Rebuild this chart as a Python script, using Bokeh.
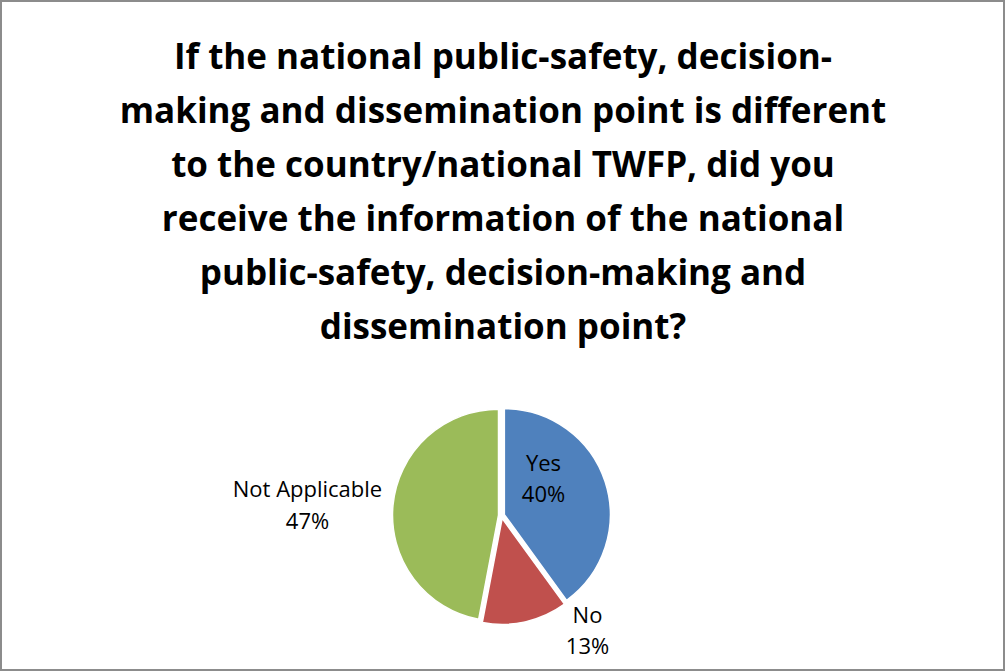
import math
from bokeh.plotting import figure
from bokeh.models import Range1d, ColumnDataSource
from bokeh.core.properties import value
from bokeh.embed import file_html
from bokeh.resources import INLINE

W, H = 1005, 671

title_lines = [
    "If the national public-safety, decision-",
    "making and dissemination point is different",
    "to the country/national TWFP, did you",
    "receive the information of the national",
    "public-safety, decision-making and",
    "dissemination point?",
]
categories = ["Yes", "No", "Not Applicable"]
shares = [40, 13, 47]
colors = ["#4F81BD", "#C0504D", "#9BBB59"]

p = figure(width=W, height=H, output_backend="svg", toolbar_location=None,
           x_range=Range1d(0, W), y_range=Range1d(0, H), min_border=0)
p.axis.visible = False
p.grid.visible = False
p.outline_line_color = "#8c8c8c"
p.outline_line_width = 3
p.background_fill_color = "white"
p.border_fill_color = "white"

def py(ypix):
    return H - ypix

# title
title_y = [55, 109, 163, 217, 271, 325]
p.text(x=[W / 2] * len(title_lines), y=[py(v) for v in title_y],
       text=title_lines, text_font=value("Open Sans"), text_font_style="bold",
       text_font_size="35px", text_align="center", text_baseline="middle",
       text_color="black")

# pie
cx, cy, r, d = 501, py(515), 106, 3
total = sum(shares)
starts, ends, xs, ys = [], [], [], []
a = math.pi / 2
for s in shares:
    sweep = 2 * math.pi * s / total
    st, en = a, a - sweep
    mid = (st + en) / 2
    starts.append(st)
    ends.append(en)
    xs.append(cx + d * math.cos(mid))
    ys.append(cy + d * math.sin(mid))
    a = en
src = ColumnDataSource(dict(x=xs, y=ys, start=starts, end=ends, color=colors))
p.wedge(x="x", y="y", radius=r, start_angle="start", end_angle="end",
        direction="clock", fill_color="color", line_color="white", line_width=1.5,
        source=src)

# labels
label_pos = [(543, 461, 492), (587, 613, 644), (307, 487, 519)]
lx, ly, lt = [], [], []
for cat, s, (x, y1, y2) in zip(categories, shares, label_pos):
    lx += [x, x]
    ly += [py(y1), py(y2)]
    lt += [cat, f"{s}%"]
p.text(x=lx, y=ly, text=lt, text_font=value("Open Sans"), text_font_size="22px",
       text_align="center", text_baseline="middle", text_color="black")

open("out.html", "w").write(file_html(p, INLINE))
